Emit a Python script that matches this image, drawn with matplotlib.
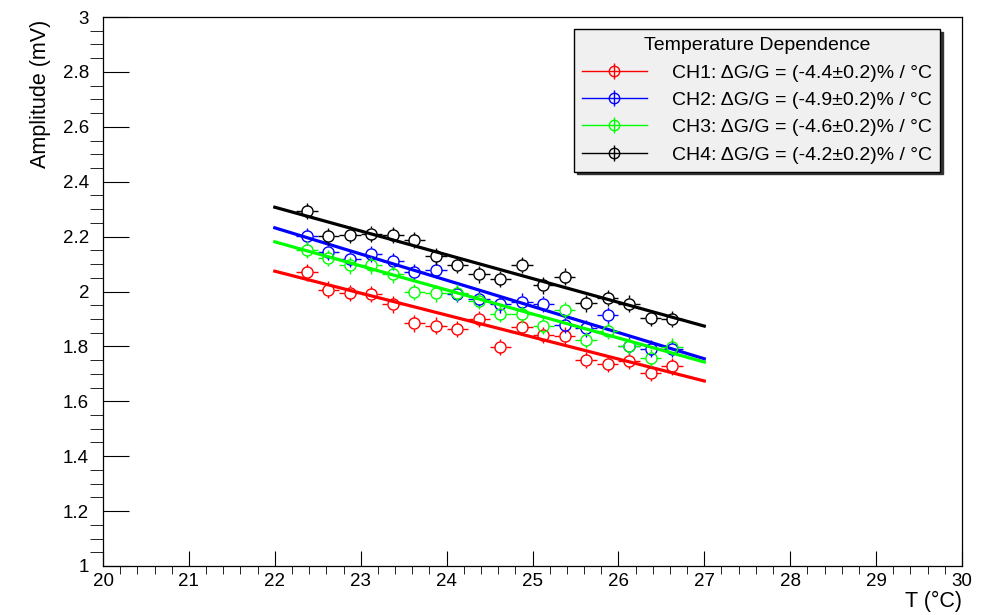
import numpy as np
import matplotlib.pyplot as plt
from matplotlib.lines import Line2D
from matplotlib.legend_handler import HandlerTuple

plt.rcParams['font.family'] = ['Liberation Sans', 'DejaVu Sans']

# temperature bins (deg C) and amplitudes (mV)
temp = [22.375, 22.625, 22.875, 23.125, 23.375, 23.625, 23.875, 24.125, 24.375,
        24.625, 24.875, 25.125, 25.375, 25.625, 25.875, 26.125, 26.375, 26.625]
temp_err = 0.125
amp_err = 0.03

ch1 = [2.070, 2.007, 1.995, 1.990, 1.953, 1.884, 1.876, 1.863, 1.900,
       1.798, 1.871, 1.842, 1.839, 1.750, 1.737, 1.747, 1.703, 1.727]
ch2 = [2.201, 2.144, 2.120, 2.137, 2.110, 2.070, 2.080, 1.990, 1.973,
       1.953, 1.963, 1.955, 1.877, 1.866, 1.913, 1.803, 1.792, 1.792]
ch3 = [2.153, 2.122, 2.095, 2.095, 2.062, 1.998, 1.993, 1.996, 1.966,
       1.919, 1.917, 1.876, 1.933, 1.824, 1.856, 1.802, 1.759, 1.799]
ch4 = [2.293, 2.201, 2.207, 2.210, 2.205, 2.187, 2.128, 2.096, 2.062,
       2.046, 2.096, 2.022, 2.054, 1.957, 1.976, 1.956, 1.904, 1.899]

# linear fit lines, evaluated at the ends of the fit range
fit_range = [22.0, 27.0]
fit_ch1 = [2.074, 1.674]
fit_ch2 = [2.232, 1.755]
fit_ch3 = [2.181, 1.743]
fit_ch4 = [2.307, 1.874]

labels = ["CH1: \u0394G/G = (-4.4\u00b10.2)% / \u00b0C",
          "CH2: \u0394G/G = (-4.9\u00b10.2)% / \u00b0C",
          "CH3: \u0394G/G = (-4.6\u00b10.2)% / \u00b0C",
          "CH4: \u0394G/G = (-4.2\u00b10.2)% / \u00b0C"]
colors = ['#ff0000', '#0000ff', '#00ff00', '#000000']
series = [ch1, ch2, ch3, ch4]
fits = [fit_ch1, fit_ch2, fit_ch3, fit_ch4]

fig = plt.figure(figsize=(9.93, 6.15), dpi=100)
ax = fig.add_axes([103/993, 1-566/615, 859/993, 549/615])

# gap left around the open marker, like ROOT does
gap_x = 0.064
gap_y = 0.020
t = np.array(temp)
handles = []
for y, f, c in zip(series, fits, colors):
    y = np.array(y)
    ax.hlines(y, t - temp_err, t - gap_x, color=c, lw=1)
    ax.hlines(y, t + gap_x, t + temp_err, color=c, lw=1)
    ax.vlines(t, y + gap_y, y + amp_err, color=c, lw=1)
    ax.vlines(t, y - amp_err, y - gap_y, color=c, lw=1)
    ax.plot(t, y, 'o', ms=8, mfc='none', mec=c, mew=1.0)
    ax.plot(fit_range, f, '-', color=c, lw=2.3)
    handles.append((Line2D([0], [0], color=c, lw=1),
                    Line2D([0], [0], marker='o', ms=7.5, mfc='none', mec=c, mew=1, ls='none'),
                    Line2D([0], [0], marker='|', ms=11, mec=c, mew=1, ls='none')))

ax.set_xlim(20, 30)
ax.set_ylim(1, 3)
ax.set_xticks(np.arange(20, 30.1, 1))
ax.set_xticks(np.arange(20, 30.01, 0.2), minor=True)
ax.set_yticks(np.arange(1, 3.01, 0.2))
ax.set_yticks(np.arange(1, 3.001, 0.05), minor=True)
ax.set_xticklabels(['20', '21', '22', '23', '24', '25', '26', '27', '28', '29', '30'])
ax.set_yticklabels(['1', '1.2', '1.4', '1.6', '1.8', '2', '2.2', '2.4', '2.6', '2.8', '3'])

ax.tick_params(direction='in', top=False, right=False, width=0.8, labelsize=13.5)
ax.tick_params(axis='x', which='major', length=11, pad=5)
ax.tick_params(axis='x', which='minor', length=5.5)
ax.tick_params(axis='y', which='major', length=18.5, pad=10)
ax.tick_params(axis='y', which='minor', length=9.5)
for s in ax.spines.values():
    s.set_linewidth(0.9)

ax.set_ylabel('Amplitude (mV)', fontsize=15.5, loc='top')
ax.yaxis.set_label_coords(-0.060, 0.995)
ax.set_xlabel('T (\u00b0C)', fontsize=15.5, loc='right')
ax.xaxis.set_label_coords(1.0, -0.045)

leg = ax.legend(handles, labels, title='Temperature Dependence',
                handler_map={tuple: HandlerTuple(ndivide=1)},
                loc='upper right', bbox_to_anchor=(940/993, 1-29/615),
                bbox_transform=fig.transFigure, borderaxespad=0,
                fontsize=14, title_fontsize=14, frameon=True, fancybox=False,
                edgecolor='black', facecolor='#f0f0f0', framealpha=1,
                handlelength=3.3, handletextpad=1.3, borderpad=0.42, labelspacing=0.5,
                shadow={'color': '0.2', 'alpha': 1})
leg.get_frame().set_linewidth(1.0)

plt.savefig('out.png', dpi=100)
